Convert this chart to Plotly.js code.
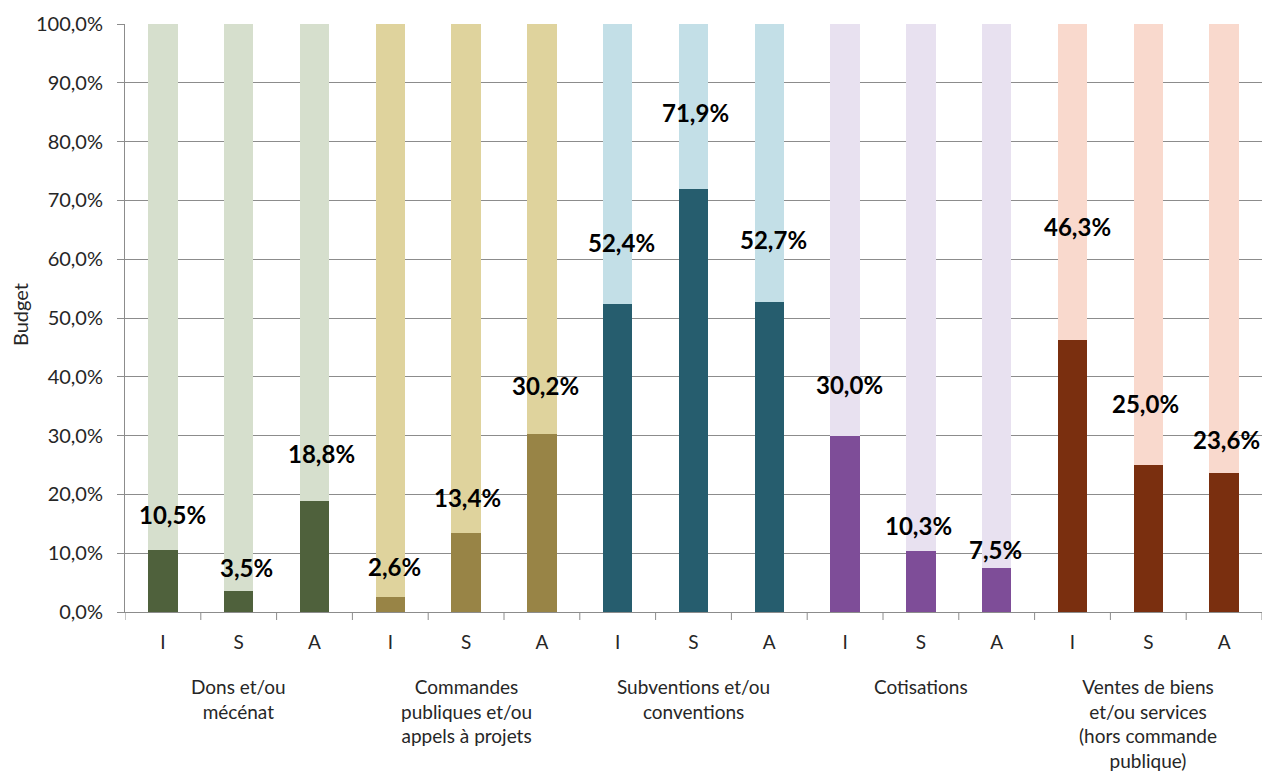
<!DOCTYPE html>
<html>
<head>
<meta charset="utf-8">
<script src="https://cdn.plot.ly/plotly-3.0.1.min.js"></script>
<style>
html,body{margin:0;padding:0;background:#fff;}
#chart{width:1262px;height:772px;}
</style>
</head>
<body>
<div id="chart"></div>
<script>
// ---- Data ----
var groups = ["Dons et/ou<br>mécénat", "Commandes<br>publiques et/ou<br>appels à projets", "Subventions et/ou<br>conventions", "Cotisations", "Ventes de biens<br>et/ou services<br>(hors commande<br>publique)"];
var subCats = ["I", "S", "A"];
var values = [10.5, 3.5, 18.8, 2.6, 13.4, 30.2, 52.4, 71.9, 52.7, 30.0, 10.3, 7.5, 46.3, 25.0, 23.6];
var labels = ["10,5%", "3,5%", "18,8%", "2,6%", "13,4%", "30,2%", "52,4%", "71,9%", "52,7%", "30,0%", "10,3%", "7,5%", "46,3%", "25,0%", "23,6%"];
var yTickVals = [0, 10, 20, 30, 40, 50, 60, 70, 80, 90, 100];
var yTickText = ["0,0%", "10,0%", "20,0%", "30,0%", "40,0%", "50,0%", "60,0%", "70,0%", "80,0%", "90,0%", "100,0%"];

// ---- Styles (not data) ----
var darkColors = ["#4F613C", "#988446", "#265D6E", "#7E4D98", "#7A2F0F"];
var lightColors = ["#D6DFCD", "#DFD39D", "#C3DFE7", "#E8E1F0", "#F9D9CD"];
// label pixel offsets [dx, dy] relative to the top of the dark bar
var labelShift = [[10,36],[8,24],[7,48],[4,30],[1,36],[4,49],[4,61],[2,77],[4,63],[4,51],[-2,26],[-1,18],[5,113],[-3,62],[2,34]];

var xs = [], tickText = [], dark = [], light = [], rest = [];
for (var i = 0; i < values.length; i++) {
  xs.push(i);
  tickText.push(subCats[i % 3]);
  var g = Math.floor(i / 3);
  dark.push(darkColors[g]);
  light.push(lightColors[g]);
  rest.push(100 - values[i]);
}

var traces = [
  {type: "bar", x: xs, y: values, marker: {color: dark, line: {width: 0}}, width: 0.39, hoverinfo: "skip"},
  {type: "bar", x: xs, y: rest, marker: {color: light, line: {width: 0}}, width: 0.39, hoverinfo: "skip"}
];

var FONT = "Lato, 'Open Sans', sans-serif";
var annotations = [];
for (var i = 0; i < values.length; i++) {
  annotations.push({
    x: xs[i], y: values[i], xref: "x", yref: "y",
    text: labels[i], showarrow: false,
    xshift: labelShift[i][0], yshift: labelShift[i][1],
    xanchor: "center", yanchor: "middle",
    font: {family: FONT, size: 24, color: "#000", weight: 700}
  });
}
for (var g = 0; g < groups.length; g++) {
  annotations.push({
    x: g * 3 + 1, y: 0, xref: "x", yref: "paper",
    text: groups[g], showarrow: false,
    xanchor: "center", yanchor: "top", yshift: -61,
    align: "center",
    font: {family: FONT, size: 19, color: "#262626"}
  });
}
annotations.push({
  x: 0, y: 0.5, xref: "paper", yref: "paper",
  text: "Budget", showarrow: false, textangle: -90,
  xanchor: "center", yanchor: "middle", xshift: -105, yshift: 3,
  font: {family: FONT, size: 20, color: "#262626"}
});

var shapes = [];
for (var k = 0; k <= values.length; k++) {
  shapes.push({
    type: "line", xref: "x", yref: "paper",
    x0: k - 0.5, x1: k - 0.5,
    ysizemode: "pixel", yanchor: 0, y0: 0, y1: -8,
    line: {color: "#8C8C8C", width: 1}
  });
}

var layout = {
  width: 1262, height: 772,
  margin: {l: 125, r: 0, t: 24, b: 160},
  paper_bgcolor: "#fff", plot_bgcolor: "#fff",
  barmode: "stack",
  showlegend: false,
  font: {family: FONT, color: "#262626"},
  xaxis: {
    range: [-0.5, 14.5], tickmode: "array", tickvals: xs, ticktext: tickText,
    ticks: "", showgrid: false, zeroline: false,
    showline: true, linecolor: "#8C8C8C", linewidth: 1,
    ticklabelstandoff: 13,
    tickfont: {family: FONT, size: 19, color: "#262626"},
    fixedrange: true
  },
  yaxis: {
    range: [0, 100], tickmode: "array", tickvals: yTickVals, ticktext: yTickText,
    ticks: "outside", ticklen: 7, tickcolor: "#8C8C8C",
    showgrid: true, gridcolor: "#8C8C8C", gridwidth: 1,
    zeroline: false, showline: true, linecolor: "#8C8C8C", linewidth: 1,
    ticklabelstandoff: 10,
    tickfont: {family: FONT, size: 20, color: "#262626"},
    fixedrange: true
  },
  annotations: annotations,
  shapes: shapes
};

Plotly.newPlot("chart", traces, layout, {displayModeBar: false, staticPlot: true});
</script>
</body>
</html>
